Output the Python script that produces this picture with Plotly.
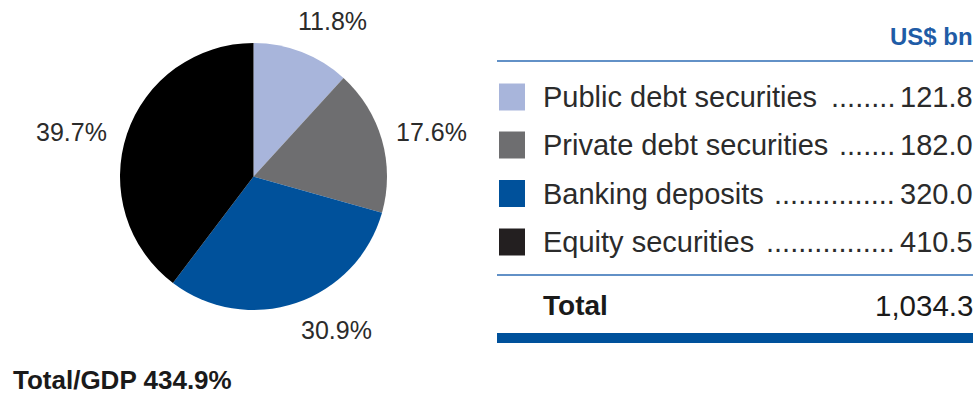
import plotly.graph_objects as go

# Financial assets breakdown, US$ bn
categories = ["Public debt securities", "Private debt securities", "Banking deposits", "Equity securities"]
values = [121.8, 182.0, 320.0, 410.5]
leader_dots = [8, 7, 15, 16]
pie_colors = ["#A8B5DB", "#6E6E70", "#00519B", "#000000"]
key_colors = ["#A8B5DB", "#6E6E70", "#00519B", "#231F20"]
unit_label = "US$ bn"
total_label = "Total"
ratio_label = "Total/GDP 434.9%"

W, H = 980, 394
FONT = "Liberation Sans, Arial, Helvetica, sans-serif"
TEXT = "#2B2B2B"
BLUE = "#00519B"


def px(x):
    return x / W


def py(y):
    return 1 - y / H


total = sum(values)
shares = [v / total * 100 for v in values]

fig = go.Figure()

# Pie occupies a square box on the left
cx, cy, r = 253.5, 176.5, 133.5
fig.add_trace(go.Pie(
    values=values,
    labels=categories,
    sort=False,
    direction="clockwise",
    rotation=0,
    marker=dict(colors=pie_colors, line=dict(width=0)),
    textinfo="none",
    hoverinfo="label+value+percent",
    showlegend=False,
    domain=dict(x=[px(cx - r), px(cx + r)], y=[py(cy + r), py(cy - r)]),
))

annotations = []
shapes = []

# Percentage labels around the pie
label_pos = [(332, 21), (431, 132), (336, 330), (71, 132)]
for s, (lx, ly) in zip(shares, label_pos):
    annotations.append(dict(
        x=px(lx), y=py(ly), xref="paper", yref="paper",
        text=f"{s:.1f}%", showarrow=False,
        xanchor="center", yanchor="middle",
        font=dict(family=FONT, size=25, color=TEXT),
    ))

# Table on the right
x_left, x_right = 497, 973
row_font = dict(family=FONT, size=29, color=TEXT)
annotations.append(dict(
    x=px(x_right + 2), y=py(36), xref="paper", yref="paper",
    text=f"<b>{unit_label}</b>", showarrow=False,
    xanchor="right", yanchor="middle",
    font=dict(family=FONT, size=24, color="#1F5CA6"),
))
shapes.append(dict(type="line", xref="paper", yref="paper",
                   x0=px(x_left), x1=px(x_right), y0=py(61), y1=py(61),
                   line=dict(color="#2E6DB4", width=1.5)))

row_y = [97, 145, 193.5, 242]
for name, val, n_dots, col, yy in zip(categories, values, leader_dots, key_colors, row_y):
    shapes.append(dict(type="rect", xref="paper", yref="paper",
                       x0=px(499), x1=px(525), y0=py(yy - 13.5), y1=py(yy + 13.5),
                       fillcolor=col, line=dict(width=0)))
    annotations.append(dict(
        x=px(541), y=py(yy), xref="paper", yref="paper",
        text=name, showarrow=False,
        xanchor="left", yanchor="middle",
        font=row_font,
    ))
    # dot leader running up to the value
    annotations.append(dict(
        x=px(897), y=py(yy), xref="paper", yref="paper",
        text="." * n_dots, showarrow=False,
        xanchor="right", yanchor="middle",
        font=row_font,
    ))
    annotations.append(dict(
        x=px(x_right + 2), y=py(yy), xref="paper", yref="paper",
        text=f"{val:.1f}", showarrow=False,
        xanchor="right", yanchor="middle",
        font=row_font,
    ))

shapes.append(dict(type="line", xref="paper", yref="paper",
                   x0=px(x_left), x1=px(x_right), y0=py(275), y1=py(275),
                   line=dict(color="#2E6DB4", width=1.5)))
annotations.append(dict(
    x=px(541), y=py(305), xref="paper", yref="paper",
    text=f"<b>{total_label}</b>", showarrow=False,
    xanchor="left", yanchor="middle",
    font=dict(family=FONT, size=28, color="#1A1A1A"),
))
annotations.append(dict(
    x=px(x_right + 2), y=py(305), xref="paper", yref="paper",
    text=f"{total:,.1f}", showarrow=False,
    xanchor="right", yanchor="middle",
    font=dict(family=FONT, size=29.5, color="#1A1A1A"),
))
shapes.append(dict(type="rect", xref="paper", yref="paper",
                   x0=px(x_left), x1=px(x_right), y0=py(343), y1=py(333),
                   fillcolor=BLUE, line=dict(width=0)))

# Footnote ratio
annotations.append(dict(
    x=px(11), y=py(380), xref="paper", yref="paper",
    text=f"<b>{ratio_label}</b>", showarrow=False,
    xanchor="left", yanchor="middle",
    font=dict(family=FONT, size=26, color="#1A1A1A"),
))

fig.update_layout(
    width=W, height=H,
    margin=dict(l=0, r=0, t=0, b=0),
    paper_bgcolor="white",
    plot_bgcolor="white",
    annotations=annotations,
    shapes=shapes,
)

fig.write_html("out.html")
